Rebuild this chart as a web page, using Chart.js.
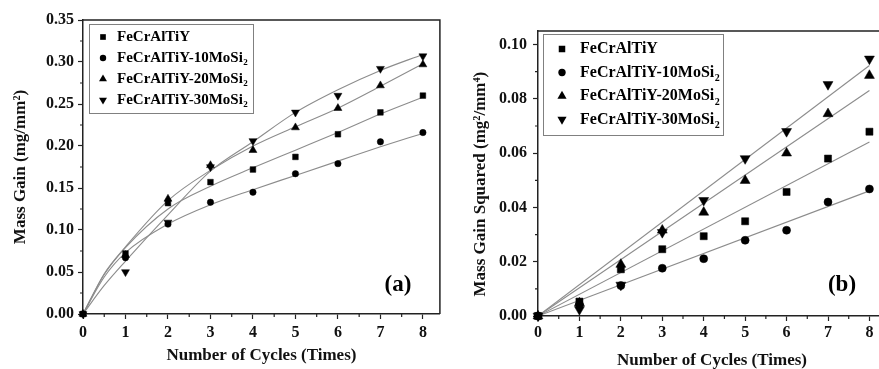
<!DOCTYPE html>
<html><head><meta charset="utf-8">
<script src="https://cdn.jsdelivr.net/npm/chart.js@4.4.1/dist/chart.umd.min.js"></script>
<style>
html,body{margin:0;padding:0;background:#fff;overflow:hidden;width:879px;height:369px;}
#ca{position:absolute;left:0;top:0;}
#cb{position:absolute;left:441px;top:0;}
</style></head><body>
<canvas id="ca" width="445" height="369"></canvas>
<canvas id="cb" width="460" height="369"></canvas>
<script>
// ---------- data ----------
const cycles = [0, 1, 2, 3, 4, 5, 6, 7, 8];
const seriesNames = ['FeCrAlTiY', 'FeCrAlTiY-10MoSi\u2082', 'FeCrAlTiY-20MoSi\u2082', 'FeCrAlTiY-30MoSi\u2082'];
const xTicks = [0, 1, 2, 3, 4, 5, 6, 7, 8];
const yTicksA = [0, 0.05, 0.10, 0.15, 0.20, 0.25, 0.30, 0.35];
const yTicksB = [0, 0.02, 0.04, 0.06, 0.08, 0.10];

// (a) mass gain (mg/mm2)
const gainBase = [0, 0.072, 0.132, 0.157, 0.172, 0.187, 0.214, 0.240, 0.260];
const gain10   = [0, 0.067, 0.107, 0.133, 0.145, 0.167, 0.179, 0.205, 0.216];
const gain20   = [0, 0.070, 0.137, 0.177, 0.195, 0.222, 0.245, 0.272, 0.297];
const gain30   = [0, 0.050, 0.109, 0.175, 0.206, 0.240, 0.260, 0.292, 0.307];
// (a) fitted curves
const fitCyclesA  = [0, 0.5, 1, 2, 3, 4, 5, 6, 7, 8];
const fitGainBase = [0, 0.047, 0.079, 0.125, 0.152, 0.174, 0.195, 0.216, 0.238, 0.258];
const fitGain10   = [0, 0.044, 0.073, 0.107, 0.130, 0.148, 0.165, 0.182, 0.199, 0.215];
const fitGain20   = [0, 0.048, 0.080, 0.135, 0.171, 0.200, 0.223, 0.245, 0.271, 0.298];
const fitGain30   = [0, 0.034, 0.063, 0.118, 0.170, 0.205, 0.240, 0.267, 0.290, 0.309];

// (b) mass gain squared (mg2/mm4)
const sqBase = [0, 0.0053, 0.0172, 0.0246, 0.0294, 0.0349, 0.0457, 0.0580, 0.0679];
const sq10   = [0, 0.0042, 0.0112, 0.0176, 0.0211, 0.0279, 0.0316, 0.0420, 0.0468];
const sq20   = [0, 0.0048, 0.0190, 0.0316, 0.0382, 0.0499, 0.0600, 0.0745, 0.0886];
const sq30   = [0, 0.0024, 0.0114, 0.0308, 0.0426, 0.0580, 0.0680, 0.0853, 0.0947];
// (b) linear fits
const fitCyclesB = [0, 8];
const fitSqBase = [0, 0.0641];
const fitSq10   = [0, 0.0461];
const fitSq20   = [0, 0.0831];
const fitSq30   = [0, 0.0923];

// ---------- styling ----------
const FONT = "'Liberation Serif', 'Times New Roman', 'DejaVu Serif', serif";
const markerStyles = [
  {style: 'rect', rot: 0, k: 1.0},
  {style: 'circle', rot: 0, k: 0.8},
  {style: 'triangle', rot: 0, k: 1.15},
  {style: 'triangle', rot: 180, k: 1.15}
];
const FIT_COLOR = '#8c8c8c';
const AXIS_COLOR = '#222';

function pts(xs, ys) { return xs.map((x, i) => ({x: x, y: ys[i]})); }

function buildDatasets(pointSets, fitX, fitSets, baseR, curved) {
  const ds = [];
  pointSets.forEach((ys, i) => {
    const m = markerStyles[i];
    ds.push({
      label: seriesNames[i], data: pts(cycles, ys), showLine: false, order: 0, clip: false,
      pointStyle: m.style, rotation: m.rot, pointRadius: baseR * m.k,
      pointBackgroundColor: '#000', pointBorderColor: '#000', pointBorderWidth: 0.5
    });
  });
  fitSets.forEach((ys, i) => {
    ds.push({
      label: 'fit ' + i, data: pts(fitX, ys), showLine: true, order: 1, pointRadius: 0,
      borderColor: FIT_COLOR, borderWidth: 1.1, fill: false,
      cubicInterpolationMode: curved ? 'monotone' : 'default', tension: 0
    });
  });
  return ds;
}

function drawMarker(ctx, style, rot, r, x, y) {
  ctx.beginPath();
  if (style === 'circle') {
    ctx.arc(x, y, r, 0, Math.PI * 2);
  } else if (style === 'rect') {
    const s = r * Math.SQRT1_2;
    ctx.rect(x - s, y - s, 2 * s, 2 * s);
  } else {
    let a = rot * Math.PI / 180;
    for (let k = 0; k < 3; k++) {
      const px = x + Math.sin(a) * r, py = y - Math.cos(a) * r;
      if (k === 0) ctx.moveTo(px, py); else ctx.lineTo(px, py);
      a += 2 * Math.PI / 3;
    }
    ctx.closePath();
  }
  ctx.fill();
}

function drawName(ctx, name, x, y, size, subDrop) {
  let base = name, sub = '';
  if (name.endsWith('\u2082')) { base = name.slice(0, -1); sub = '2'; }
  ctx.font = 'bold ' + size + 'px ' + FONT;
  ctx.fillText(base, x, y);
  if (sub) {
    const w = ctx.measureText(base).width;
    ctx.font = 'bold ' + Math.round(size * 0.62) + 'px ' + FONT;
    ctx.fillText(sub, x + w + 0.5, y + size * subDrop);
  }
}

const deco = {
  id: 'deco',
  afterDatasetsDraw(chart, args, o) {
    const ctx = chart.ctx;
    const L = o.legend;
    ctx.save();
    ctx.fillStyle = '#fff';
    ctx.fillRect(L.x, L.y, L.w, L.h);
    ctx.strokeStyle = '#808080';
    ctx.lineWidth = 1;
    ctx.strokeRect(L.x + 0.5, L.y + 0.5, L.w, L.h);
    ctx.fillStyle = '#000';
    ctx.textBaseline = 'middle';
    ctx.textAlign = 'left';
    seriesNames.forEach((name, i) => {
      const cy = L.y0 + i * L.rowH;
      const m = markerStyles[i];
      drawMarker(ctx, m.style, m.rot, L.r * m.k, L.markerX, cy);
      drawName(ctx, name, L.textX, cy, L.size, L.subDrop);
    });
    // panel tag
    ctx.font = 'bold ' + o.tag.size + 'px ' + FONT;
    ctx.textAlign = 'center';
    ctx.fillText(o.tag.text, o.tag.x, o.tag.y);
    ctx.restore();
  },
  afterDraw(chart) {
    const {ctx, chartArea: ca, scales} = chart;
    ctx.save();
    ctx.strokeStyle = AXIS_COLOR;
    ctx.lineWidth = 1.5;
    ctx.beginPath();
    ctx.moveTo(ca.left, ca.top); ctx.lineTo(ca.right, ca.top); ctx.lineTo(ca.right, ca.bottom);
    ctx.stroke();
    // minor ticks halfway between majors
    ctx.lineWidth = 1.2;
    const xs = scales.x, ys = scales.y;
    ctx.beginPath();
    for (let i = 0; i < xs.ticks.length - 1; i++) {
      const p = xs.getPixelForValue((xs.ticks[i].value + xs.ticks[i + 1].value) / 2);
      ctx.moveTo(p, ca.bottom); ctx.lineTo(p, ca.bottom + 3);
    }
    for (let i = 0; i < ys.ticks.length - 1; i++) {
      const p = ys.getPixelForValue((ys.ticks[i].value + ys.ticks[i + 1].value) / 2);
      ctx.moveTo(ca.left, p); ctx.lineTo(ca.left - 3, p);
    }
    ctx.stroke();
    ctx.restore();
  }
};

function axisCommon(ticksArr, fmt, tickPad, fitSize, isX) {
  return {
    type: 'linear',
    afterBuildTicks: s => { s.ticks = ticksArr.map(v => ({value: v})); },
    afterFit: s => { if (isX) s.height = fitSize; else s.width = fitSize; },
    ticks: {
      color: '#111', padding: tickPad, autoSkip: false, maxRotation: 0,
      font: {family: FONT, size: 16, weight: 'bold', lineHeight: 1.2},
      callback: v => fmt(v)
    },
    grid: {display: true, drawOnChartArea: false, drawTicks: true, tickLength: 5, tickColor: AXIS_COLOR, tickWidth: 1.2},
    border: {display: true, color: AXIS_COLOR, width: 1.5}
  };
}

function makeChart(id, cfg) {
  const xAxis = axisCommon(xTicks, v => String(v), cfg.xTickPad, cfg.xHeight, true);
  xAxis.min = 0; xAxis.max = 8.4;
  xAxis.title = {display: true, text: 'Number of Cycles (Times)', color: '#111',
    font: {family: FONT, size: 17, weight: 'bold', lineHeight: 1}, padding: {top: 0, bottom: cfg.xTitlePad}};
  const yAxis = axisCommon(cfg.yTicks, v => v.toFixed(2), cfg.yTickPad, cfg.yWidth, false);
  yAxis.min = 0; yAxis.max = cfg.yMax;
  yAxis.title = {display: true, text: cfg.yTitle, color: '#111',
    font: {family: FONT, size: 17, weight: 'bold', lineHeight: 1}, padding: {top: cfg.yTitlePad, bottom: 0}};
  return new Chart(document.getElementById(id), {
    type: 'scatter',
    data: {datasets: cfg.datasets},
    options: {
      responsive: false, animation: false, devicePixelRatio: 1,
      layout: {padding: cfg.padding},
      scales: {x: xAxis, y: yAxis},
      plugins: {legend: {display: false}, tooltip: {enabled: false}, deco: cfg.deco}
    },
    plugins: [deco]
  });
}

makeChart('ca', {
  datasets: buildDatasets([gainBase, gain10, gain20, gain30], fitCyclesA,
    [fitGainBase, fitGain10, fitGain20, fitGain30], 4, true),
  yTicks: yTicksA, yMax: 0.35, yTitle: 'Mass Gain (mg/mm\u00B2)',
  padding: {left: 0, right: 4, top: 20, bottom: 0},
  xHeight: 55, yWidth: 83, xTickPad: 4, yTickPad: 4, xTitlePad: 5, yTitlePad: 12,
  deco: {
    legend: {x: 89, y: 24, w: 164, h: 89, y0: 37, rowH: 21, markerX: 103, textX: 117, size: 15, r: 4, subDrop: 0.3},
    tag: {text: '(a)', x: 398, y: 285, size: 23}
  }
});

makeChart('cb', {
  datasets: buildDatasets([sqBase, sq10, sq20, sq30], fitCyclesB,
    [fitSqBase, fitSq10, fitSq20, fitSq30], 5, false),
  yTicks: yTicksB, yMax: 0.105, yTitle: 'Mass Gain Squared (mg\u00B2/mm\u2074)\u00A0\u00A0\u00A0\u00A0\u00A0',
  padding: {left: 0, right: 15, top: 31, bottom: 0},
  xHeight: 53, yWidth: 97, xTickPad: 2, yTickPad: 6, xTitlePad: 0, yTitlePad: 31,
  deco: {
    legend: {x: 102, y: 34, w: 180, h: 101, y0: 49, rowH: 23.5, markerX: 121, textX: 139, size: 16, r: 4.6, subDrop: 0.38},
    tag: {text: '(b)', x: 401, y: 285, size: 23}
  }
});
</script>
</body></html>
